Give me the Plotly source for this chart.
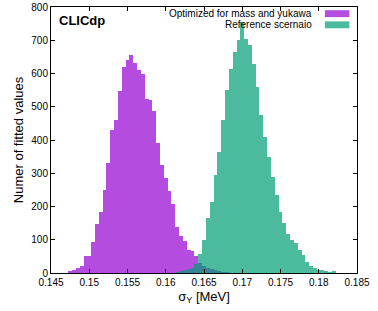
import plotly.graph_objects as go

# Bin centres (bin width 0.0005) and counts
purple_x = [0.1475, 0.1480, 0.1485, 0.1490, 0.1495, 0.1500, 0.1505, 0.1510, 0.1515, 0.1520,
            0.1525, 0.1530, 0.1535, 0.1540, 0.1545, 0.1550, 0.1555, 0.1560, 0.1565, 0.1570,
            0.1575, 0.1580, 0.1585, 0.1590, 0.1595, 0.1600, 0.1605, 0.1610, 0.1615, 0.1620,
            0.1625, 0.1630, 0.1635, 0.1640, 0.1645, 0.1650, 0.1655, 0.1660, 0.1665, 0.1670,
            0.1675, 0.1680]
purple_y = [6, 10, 16, 21, 52, 52, 92, 146, 183, 251,
            331, 431, 459, 547, 620, 642, 655, 632, 612, 598,
            522, 519, 487, 391, 324, 287, 247, 209, 138, 110,
            96, 70, 66, 52, 30, 22, 16, 12, 8, 5,
            3, 2]

green_x = [0.1615, 0.1620, 0.1625, 0.1630, 0.1635, 0.1640, 0.1645, 0.1650, 0.1655, 0.1660,
           0.1665, 0.1670, 0.1675, 0.1680, 0.1685, 0.1690, 0.1695, 0.1700, 0.1705, 0.1710,
           0.1715, 0.1720, 0.1725, 0.1730, 0.1735, 0.1740, 0.1745, 0.1750, 0.1755, 0.1760,
           0.1765, 0.1770, 0.1775, 0.1780, 0.1785, 0.1790, 0.1795, 0.1800, 0.1805, 0.1810,
           0.1815, 0.1820]
green_y = [2, 5, 8, 13, 16, 26, 58, 100, 164, 214,
           294, 364, 459, 549, 615, 665, 700, 755, 705, 685,
           630, 560, 474, 410, 349, 289, 236, 183, 149, 118,
           100, 90, 70, 53, 33, 20, 16, 10, 10, 6,
           2, 4]

bin_width = 0.0005
series_names = ["Optimized for mass and yukawa", "Reference scernaio"]
series_colors = ["#9400d3", "#009e73"]

x_ticks = [0.145, 0.15, 0.155, 0.16, 0.165, 0.17, 0.175, 0.18, 0.185]
x_ticktext = ["0.145", "0.15", "0.155", "0.16", "0.165", "0.17", "0.175", "0.18", "0.185"]
y_ticks = [0, 100, 200, 300, 400, 500, 600, 700, 800]

FONT = "Liberation Sans, Arial, sans-serif"

fig = go.Figure()
for xs, ys, name, col in [(purple_x, purple_y, series_names[0], series_colors[0]),
                          (green_x, green_y, series_names[1], series_colors[1])]:
    fig.add_trace(go.Bar(x=xs, y=ys, width=bin_width, name=name,
                         marker=dict(color=col, opacity=0.7, line=dict(width=0)),
                         showlegend=False, hoverinfo="skip"))

fig.update_layout(
    width=378, height=311,
    margin=dict(l=51, r=21, t=7, b=38),
    barmode="overlay", bargap=0,
    plot_bgcolor="white", paper_bgcolor="white",
    font=dict(family=FONT, size=10, color="black"),
    xaxis=dict(range=[0.145, 0.185], tickvals=x_ticks, ticktext=x_ticktext,
               ticks="inside", ticklen=4, tickcolor="black", showline=True,
               linecolor="black", linewidth=1, mirror="allticks", showgrid=False,
               zeroline=False, automargin=False,
               title=dict(text="σ<sub>Y</sub> [MeV]", font=dict(size=13), standoff=4)),
    yaxis=dict(range=[0, 800], tickvals=y_ticks,
               ticks="inside", ticklen=4, tickcolor="black", showline=True,
               linecolor="black", linewidth=1, mirror="allticks", showgrid=False,
               zeroline=False, automargin=False,
               title=dict(text="Numer of fitted values", font=dict(size=13), standoff=4)),
)

# Title inside plot
fig.add_annotation(x=0.02, y=0.985, xref="paper", yref="paper", xanchor="left", yanchor="top",
                   text="<b>CLICdp</b>", showarrow=False, font=dict(size=13, family=FONT))

# gnuplot-style key: right-aligned text with swatch to the right
for i, (name, col) in enumerate(zip(series_names, series_colors)):
    yc = 0.975 - i * 0.042
    fig.add_annotation(x=0.86, y=yc, xref="paper", yref="paper", xanchor="right", yanchor="middle",
                       text=name, showarrow=False, font=dict(size=10, family=FONT))
    fig.add_shape(type="rect", xref="paper", yref="paper",
                  x0=0.895, x1=0.975, y0=yc - 0.013, y1=yc + 0.013,
                  fillcolor=col, opacity=0.7, line=dict(width=0))

fig.write_html("out.html", config={"displayModeBar": False},
               post_script="document.body.style.margin='0';")
